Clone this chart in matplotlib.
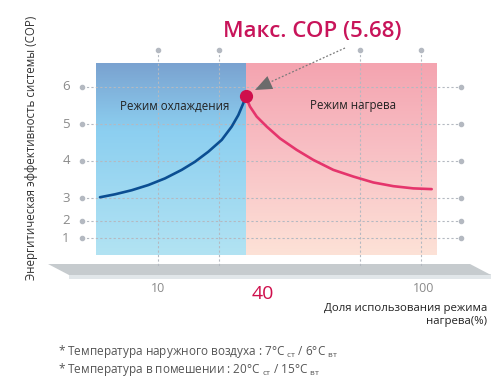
import numpy as np
import matplotlib
matplotlib.use('Agg')
import matplotlib.pyplot as plt
from matplotlib.colors import LinearSegmentedColormap
from matplotlib.patches import Polygon
from matplotlib.transforms import Affine2D

plt.rcParams['font.family'] = ['Open Sans', 'DejaVu Sans']

# ---------------- data ----------------
cop_ticks = [1, 2, 3, 4, 5, 6]
x_tick_vals = [10, 100]
grid_x = [10, 31, 79, 100]
cool_x = [-9.85, -4.71, 1.00, 6.68, 12.40, 18.11, 22.66, 27.21, 31.80, 35.22, 37.48, 39.19, 40]
cool_y = [3.02, 3.10, 3.21, 3.35, 3.53, 3.76, 3.98, 4.25, 4.57, 4.93, 5.24, 5.56, 5.75]
heat_x = [40, 41.48, 43.78, 47.20, 51.75, 57.46, 63.14, 69.99, 76.83, 83.68, 90.52, 97.37, 103.66]
heat_y = [5.75, 5.47, 5.20, 4.93, 4.61, 4.30, 4.03, 3.76, 3.58, 3.42, 3.32, 3.26, 3.24]
peak_x = 40
peak_cop = 5.75
title_text = 'Макс. COP (5.68)'
cool_label = 'Режим охлаждения'
heat_label = 'Режим нагрева'
ylabel_text = 'Энергитическая эффективность системы (COP)'
xlabel_text = 'Доля использования режима\nнагрева(%)'
note1 = '* Температура наружного воздуха : 7°C $_{\\mathregular{ст}}$ / 6°C $_{\\mathregular{вт}}$'
note2 = '* Температура в помешении : 20°C $_{\\mathregular{ст}}$ / 15°C $_{\\mathregular{вт}}$'

# ---------------- layout ----------------
W, H = 500, 384
fig = plt.figure(figsize=(W / 100, H / 100), dpi=100)
AX_L, AX_R, AX_T, AX_B = 40, 495, 45, 285
ax = fig.add_axes([AX_L / W, 1 - AX_B / H, (AX_R - AX_L) / W, (AX_B - AX_T) / H])

# non-uniform COP axis (as in the original graphic)
ycop = [-3, 0, 1, 2, 3, 4, 5, 6, 8]
ypos = [-51, 0, 17, 34, 57, 94, 131, 168, 242]
fwd = lambda v: np.interp(v, ycop, ypos)
inv = lambda p: np.interp(p, ypos, ycop)
ax.set_yscale('function', functions=(fwd, inv))
k = 263 / 90.0
def xd(px):
    return 10 + (px - 158) / k
def yd(py):
    return float(inv(255 - py))
ax.set_xlim(xd(AX_L), xd(AX_R))
ax.set_ylim(yd(AX_B), yd(AX_T))
ax.axis('off')

pix = Affine2D().scale(1 / W, -1 / H).translate(0, 1) + fig.transFigure
def afx(px):
    return (px - AX_L) / (AX_R - AX_L)
def afy(py):
    return (AX_B - py) / (AX_B - AX_T)

# ---------------- panels ----------------
grad = np.linspace(0, 1, 256).reshape(-1, 1)
cm_blue = LinearSegmentedColormap.from_list('b', [(0, '#7aa2d0'), (0.35, '#8ccff0'), (1, '#b2e3f3')])
cm_pink = LinearSegmentedColormap.from_list('p', [(0, '#f4a4b0'), (0.45, '#f8bfc4'), (1, '#fde2d7')])
xb = 245.7
ax.imshow(grad, cmap=cm_blue, aspect='auto', transform=ax.transAxes,
          extent=(afx(96), afx(xb), afy(255), afy(63)), zorder=1, origin='upper')
ax.imshow(grad, cmap=cm_pink, aspect='auto', transform=ax.transAxes,
          extent=(afx(xb), afx(436), afy(255), afy(63)), zorder=1, origin='upper')

# ---------------- floor slab ----------------
ax.add_patch(Polygon([(69, 274), (491, 274), (491, 279), (69, 279)], closed=True,
                     facecolor='#e1e6e9', edgecolor='none', transform=pix, clip_on=False, zorder=0.5))
ax.add_patch(Polygon([(48, 264), (470, 264), (491, 275), (69, 275)], closed=True,
                     facecolor='#c6cbce', edgecolor='none', transform=pix, clip_on=False, zorder=0.6))

# ---------------- grid ----------------
gcol = '#b4b9c1'
for c in cop_ticks:
    ax.plot([xd(82), xd(461)], [c, c], ls=(0, (2, 2)), color=gcol, lw=0.8, zorder=2)
    ax.plot([xd(82), xd(461)], [c, c], 'o', ms=3, color=gcol, zorder=2)
    ax.text(xd(66), c, str(c), ha='center', va='center', fontsize=9.5, color='#8a8a8a')
for g in grid_x:
    ax.plot([g, g], [yd(50), yd(267)], ls=(0, (2, 2)), color=gcol, lw=0.8, zorder=2)
    ax.plot([g], [yd(50)], 'o', ms=3, color=gcol, zorder=2)

# ---------------- curves ----------------
ax.plot(cool_x, cool_y, color='#0b4e92', lw=1.9, solid_capstyle='round', solid_joinstyle='round', zorder=4)
ax.plot(heat_x, heat_y, color='#e5356c', lw=1.9, solid_capstyle='round', solid_joinstyle='round', zorder=4)
ax.plot([peak_x], [peak_cop], 'o', ms=8.5, color='#cf0f4c', zorder=5)

# ---------------- arrow ----------------
ax.plot([345, 266], [48, 84], transform=pix, ls=(0, (1.5, 1.5)), color='#7a7a7a', lw=0.9, zorder=6, clip_on=False)
ax.add_patch(Polygon([(255, 90), (273.2, 88.9), (267.4, 76.1)], closed=True,
                     facecolor='#6b6b6b', edgecolor='none', transform=pix, zorder=6, clip_on=False))

# ---------------- texts ----------------
fig.text(312, 31, title_text, transform=pix, ha='center', va='center', fontsize=16,
         color='#c8145a', fontweight='semibold')
fig.text(175, 106, cool_label, transform=pix, ha='center', va='center', fontsize=8.3, color='#222222')
fig.text(353, 106, heat_label, transform=pix, ha='center', va='center', fontsize=8.3, color='#222222')
for xv in x_tick_vals:
    ax.text(xv + (1 if xv == 100 else 0), yd(289), str(xv), ha='center', va='center', fontsize=9, color='#8a8a8a')
ax.text(peak_x, yd(294), '40', ha='center', va='center', fontsize=14, color='#cf0f4c',
        transform=ax.transData + Affine2D().translate(17, 0))
fig.text(487, 315, xlabel_text, transform=pix, ha='right', va='center', ma='right', fontsize=8.2,
         color='#222222', linespacing=1.3)
fig.text(32, 148, ylabel_text, transform=pix, rotation=90, ha='center', va='center', fontsize=8.3,
         color='#333333')
fig.text(58, 351, note1, transform=pix, ha='left', va='center', fontsize=8.5, color='#555555')
fig.text(58, 369, note2, transform=pix, ha='left', va='center', fontsize=8.5, color='#555555')

fig.savefig('out.png', dpi=100)
